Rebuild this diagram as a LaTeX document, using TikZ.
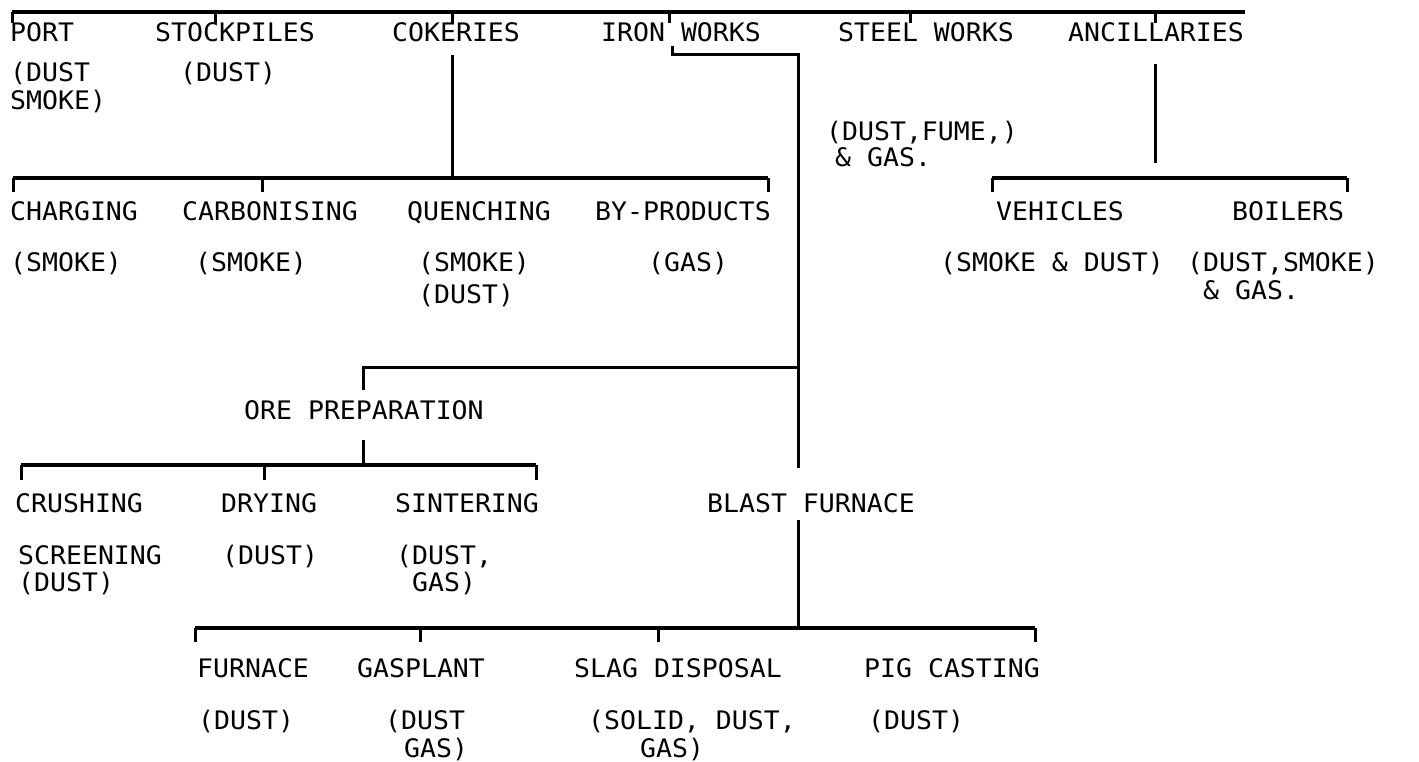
\documentclass[tikz,border=0pt]{standalone}
\usepackage{fontspec}
\newfontfamily\plotfont{DejaVu Sans Mono}[FakeStretch=1.04]
\begin{document}
\begin{tikzpicture}[x=1pt,y=-1pt,
  lbl/.style={anchor=base west,inner sep=0pt,font=\plotfont\fontsize{25.5}{26}\selectfont},
  bar/.style={line width=3.4pt},
  tick/.style={line width=3pt}]
\useasboundingbox (0,0) rectangle (1419,762);
% ---- level 1 labels
\node[lbl] (port)  at (10,42)   {PORT};
\node[lbl] (stock) at (155,42)  {STOCKPILES};
\node[lbl] (coke)  at (392,42)  {COKERIES};
\node[lbl] (iron)  at (601,42)  {IRON WORKS};
\node[lbl] (steel) at (838,42)  {STEEL WORKS};
\node[lbl] (anc)   at (1068,42) {ANCILLARIES};
\node[lbl] (portE1) at (10,82)  {(DUST};
\node[lbl] (portE2) at (10,110) {SMOKE)};
\node[lbl] (stockE) at (180,82) {(DUST)};
\node[lbl] (steelE1) at (826,141) {(DUST,FUME,)};
\node[lbl] (steelE2) at (835,167) {\& GAS.};
% ---- cokeries children
\node[lbl] (charg) at (10,221)  {CHARGING};
\node[lbl] (carb)  at (182,221) {CARBONISING};
\node[lbl] (quench) at (407,221) {QUENCHING};
\node[lbl] (byp)   at (595,221) {BY-PRODUCTS};
\node[lbl] (chargE) at (10,271) {(SMOKE)};
\node[lbl] (carbE)  at (195,271) {(SMOKE)};
\node[lbl] (quenchE1) at (418,271) {(SMOKE)};
\node[lbl] (quenchE2) at (418,303) {(DUST)};
\node[lbl] (bypE) at (648,271) {(GAS)};
% ---- ancillaries children
\node[lbl] (veh) at (996,221)  {VEHICLES};
\node[lbl] (boil) at (1232,221) {BOILERS};
\node[lbl] (vehE) at (940,271) {(SMOKE \& DUST)};
\node[lbl] (boilE1) at (1187,271) {(DUST,SMOKE)};
\node[lbl] (boilE2) at (1203,299) {\& GAS.};
% ---- ore preparation
\node[lbl] (ore) at (244,419) {ORE PREPARATION};
\node[lbl] (crush) at (15,512) {CRUSHING};
\node[lbl] (dry)   at (221,512) {DRYING};
\node[lbl] (sint)  at (395,512) {SINTERING};
\node[lbl] (crushE1) at (18,564) {SCREENING};
\node[lbl] (crushE2) at (18,591) {(DUST)};
\node[lbl] (dryE) at (222,564) {(DUST)};
\node[lbl] (sintE1) at (396,564) {(DUST,};
\node[lbl] (sintE2) at (412,591) {GAS)};
% ---- blast furnace
\node[lbl] (bf) at (707,512) {BLAST FURNACE};
\node[lbl] (furn) at (197,677) {FURNACE};
\node[lbl] (gasp) at (357,677) {GASPLANT};
\node[lbl] (slag) at (574,677) {SLAG DISPOSAL};
\node[lbl] (pig)  at (864,677) {PIG CASTING};
\node[lbl] (furnE) at (198,729) {(DUST)};
\node[lbl] (gaspE1) at (385,729) {(DUST};
\node[lbl] (gaspE2) at (404,757) {GAS)};
\node[lbl] (slagE1) at (588,729) {(SOLID, DUST,};
\node[lbl] (slagE2) at (640,757) {GAS)};
\node[lbl] (pigE) at (868,729) {(DUST)};
% ---- level 1 bus
\coordinate (busA) at (12,12);
\coordinate (busB) at (1245,12);
\draw[bar] (busA) -- (busB);
\foreach \n/\x in {port/12,stock/215,coke/452,iron/669,steel/910,anc/1155}{
  \coordinate (k-\n) at (\x,23);
  \draw[tick] (k-\n |- busA) -- (k-\n);
}
% ---- cokeries bus
\coordinate (cokeTop) at (452,55);
\coordinate (cokeJ) at (452,178);
\draw[tick] (cokeTop) -- (cokeJ);
\coordinate (cbA) at (13,178);
\coordinate (cbB) at (768,178);
\draw[bar] (cbA) -- (cbB);
\foreach \n/\x in {charg/13,carb/262,byp/768}{
  \coordinate (c-\n) at (\x,192);
  \draw[tick] (c-\n |- cbA) -- (c-\n);
}
% ---- ancillaries bus
\coordinate (ancTop) at (1155,64);
\coordinate (ancBot) at (1155,163);
\draw[tick] (ancTop) -- (ancBot);
\coordinate (abA) at (992,178);
\coordinate (abB) at (1347,178);
\draw[bar] (abA) -- (abB);
\foreach \n/\x in {veh/992,boil/1347}{
  \coordinate (a-\n) at (\x,192);
  \draw[tick] (a-\n |- abA) -- (a-\n);
}
% ---- iron works feed
\coordinate (ironA) at (672,46);
\coordinate (ironB) at (672,55);
\coordinate (ironC) at (798,55);
\coordinate (oreJ) at (798,367);
\coordinate (bfTop) at (798,468);
\draw[tick] (ironA) -- (ironB) -- (ironC) -- (bfTop);
\coordinate (oreL) at (363,367);
\coordinate (oreT) at (363,390);
\draw[tick] (oreJ) -- (oreL) -- (oreT);
% ---- ore bus
\coordinate (oreB) at (363,440);
\coordinate (obJ) at (363,465);
\draw[tick] (oreB) -- (obJ);
\coordinate (obA) at (21,465);
\coordinate (obB) at (536,465);
\draw[bar] (obA) -- (obB);
\foreach \n/\x in {crush/21,dry/264,sint/536}{
  \coordinate (o-\n) at (\x,480);
  \draw[tick] (o-\n |- obA) -- (o-\n);
}
% ---- blast furnace bus
\coordinate (bfBot) at (798,520);
\coordinate (bbJ) at (798,628);
\draw[tick] (bfBot) -- (bbJ);
\coordinate (bbA) at (195,628);
\coordinate (bbB) at (1035,628);
\draw[bar] (bbA) -- (bbB);
\foreach \n/\x in {furn/195,gasp/420,slag/658,pig/1035}{
  \coordinate (b-\n) at (\x,642);
  \draw[tick] (b-\n |- bbA) -- (b-\n);
}
\end{tikzpicture}
\end{document}
